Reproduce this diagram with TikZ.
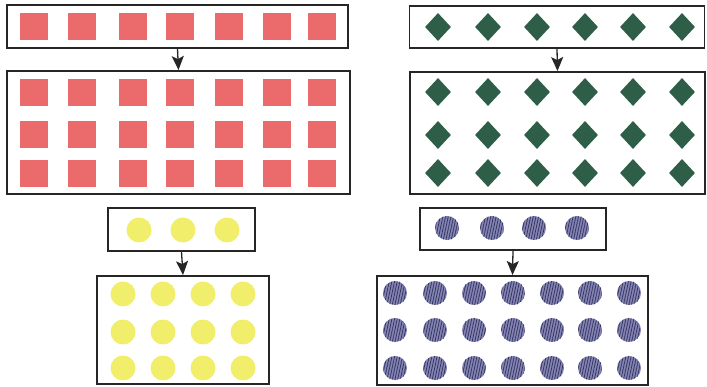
\documentclass[tikz,border=0pt]{standalone}
\usepackage{xcolor}
\usepackage{tikz}
\usetikzlibrary{
  arrows.meta,
  shapes.geometric,
  patterns.meta,
  positioning
}

\definecolor{sqred}{HTML}{EB6A6C}
\definecolor{dmgreen}{HTML}{2E5E48}
\definecolor{dotyellow}{HTML}{F0EE6A}
\definecolor{dotblue}{HTML}{8484B8}
\definecolor{hatchblue}{HTML}{36365A}
\definecolor{frame}{HTML}{262626}

\tikzset{
  framebox/.style={draw=frame, line width=1.9pt, inner sep=0pt},
  redsq/.style={fill=sqred, inner sep=0pt, minimum width=28pt, minimum height=27pt},
  greendm/.style={diamond, fill=dmgreen, inner sep=0pt, minimum width=26pt, minimum height=28pt},
  yellowdot/.style={circle, fill=dotyellow, inner sep=0pt, minimum size=25pt},
  bluedot/.style={circle, fill=dotblue, inner sep=0pt, minimum size=24pt,
    postaction={pattern={Lines[angle=78, distance=2.6pt, line width=0.8pt]}, pattern color=hatchblue}},
  downarrow/.style={line width=1.3pt, draw=frame, -{Stealth[length=14pt, width=12pt, inset=3pt]}}
}

\begin{document}
\begin{tikzpicture}[x=1pt, y=-1pt]
  \useasboundingbox (0,0) rectangle (707,387);
  % red squares: 7 then 3 rows of 7
  \node[framebox, minimum width=341pt, minimum height=43pt] (redone) at (177.5,26.5) {};
  \node[framebox, minimum width=343pt, minimum height=123pt] (redmany) at (178.5,132.5) {};
  \foreach \c/\x in {1/34, 2/82, 3/133, 4/180, 5/229, 6/277, 7/322} {
    \node[redsq] (rt-\c) at (\x,26.5) {};
    \foreach \r/\y in {1/92.5, 2/134.5, 3/174}
      \node[redsq] (rm-\r-\c) at (\x,\y) {};
  }
  \draw[downarrow] (redone.south) -- (redmany.north);
  % green diamonds: 6 then 3 rows of 6
  \node[framebox, minimum width=295pt, minimum height=42pt] (greenone) at (557,27) {};
  \node[framebox, minimum width=295pt, minimum height=122pt] (greenmany) at (557.5,133) {};
  \foreach \c/\x in {1/438, 2/488, 3/537, 4/585, 5/633, 6/682} {
    \node[greendm] (gt-\c) at (\x,27) {};
    \foreach \r/\y in {1/92, 2/135, 3/173}
      \node[greendm] (gm-\r-\c) at (\x,\y) {};
  }
  \draw[downarrow] (greenone.south) -- (greenmany.north);
  % yellow dots: 3 then 3 rows of 4
  \node[framebox, minimum width=147pt, minimum height=43pt] (yellowone) at (181.5,229.5) {};
  \node[framebox, minimum width=172pt, minimum height=108pt] (yellowmany) at (183,330) {};
  \foreach \c/\x in {1/139, 2/183, 3/227}
    \node[yellowdot] (yt-\c) at (\x,230) {};
  \foreach \c/\x in {1/123, 2/163, 3/203, 4/243}
    \foreach \r/\y in {1/294, 2/332, 3/368}
      \node[yellowdot] (ym-\r-\c) at (\x,\y) {};
  \draw[downarrow] (yellowone.south) -- (yellowmany.north);
  % blue hatched dots: 4 then 3 rows of 7
  \node[framebox, minimum width=186pt, minimum height=42pt] (blueone) at (513,229) {};
  \node[framebox, minimum width=271pt, minimum height=109pt] (bluemany) at (512.5,330.5) {};
  \foreach \c/\x in {1/447, 2/492, 3/534, 4/577}
    \node[bluedot] (bt-\c) at (\x,228) {};
  \foreach \c/\x in {1/395, 2/435, 3/474, 4/513, 5/552, 6/590, 7/629}
    \foreach \r/\y in {1/293, 2/330, 3/368}
      \node[bluedot] (bm-\r-\c) at (\x,\y) {};
  \draw[downarrow] (blueone.south) -- (bluemany.north);
\end{tikzpicture}
\end{document}
